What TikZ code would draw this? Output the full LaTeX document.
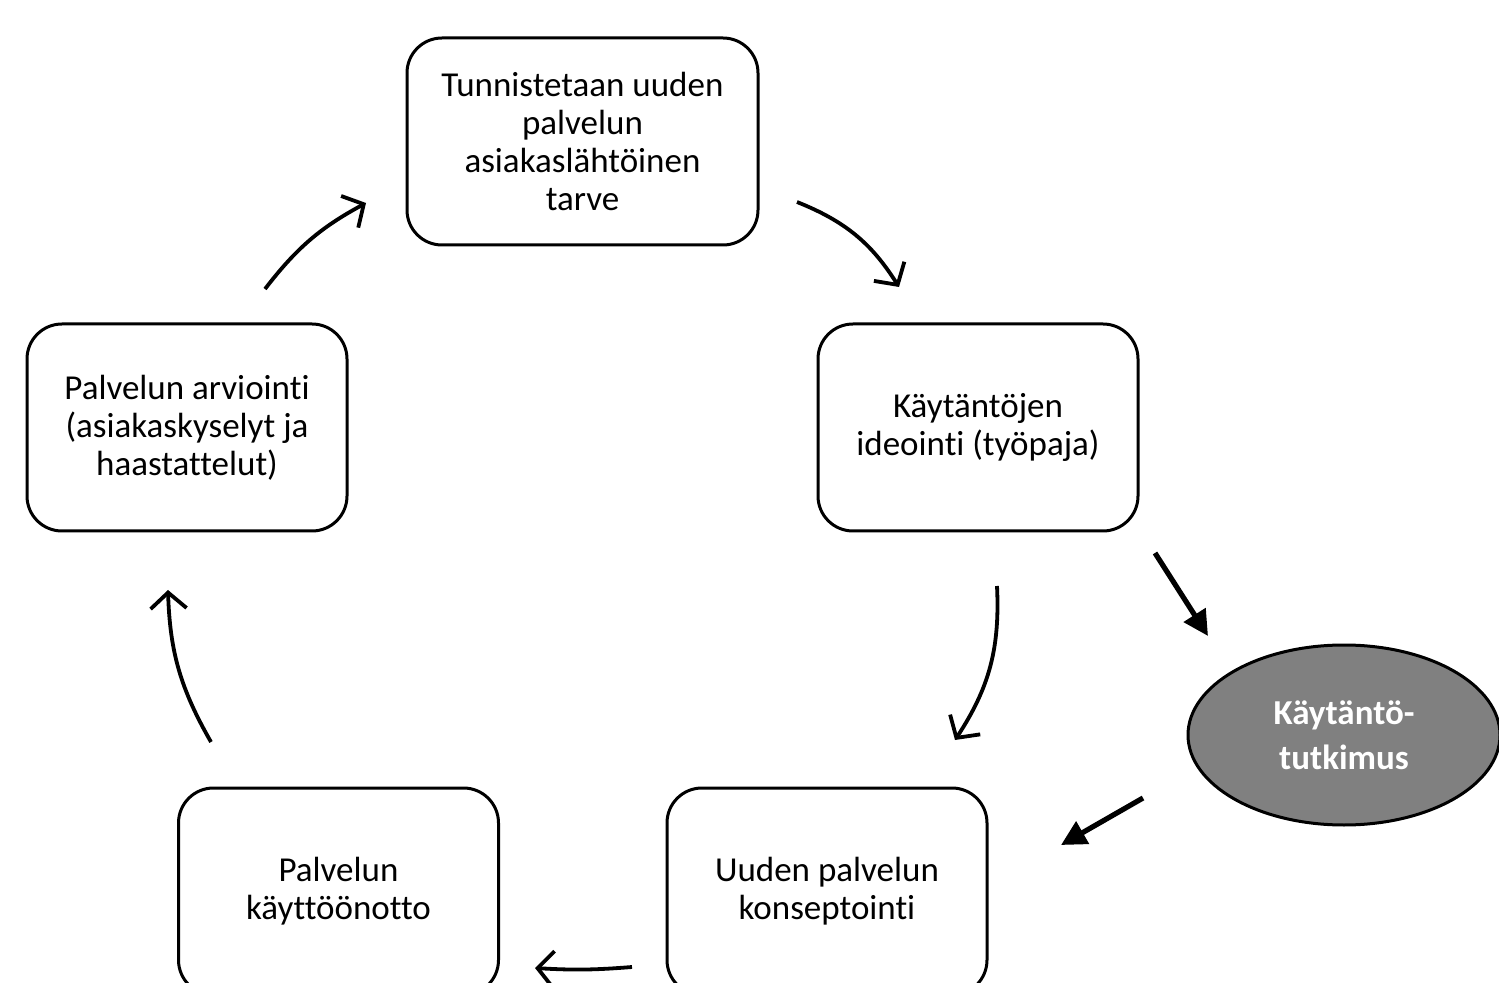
\documentclass[tikz,border=0pt]{standalone}
\usepackage{fontspec}
\setmainfont[Ligatures=NoCommon]{Carlito}
\usetikzlibrary{arrows.meta,shapes.geometric}
\tikzset{
  stagebox/.style={draw=black, line width=1.5pt, rounded corners=17.5pt, fill=white,
    minimum width=160pt, minimum height=103.5pt, align=center, inner sep=0pt,
    font=\fontsize{17.5}{19}\selectfont},
  research/.style={ellipse, draw=black, line width=1.5pt, fill=black!50, text=white,
    minimum width=156pt, minimum height=90pt, align=center, inner sep=0pt,
    font=\fontsize{17.5}{22.5}\selectfont\bfseries},
  cyclearrow/.style={line width=1.9pt, -{Straight Barb[length=8pt,width=18pt,line width=1.9pt]}},
  thickarrow/.style={line width=2.6pt, -{Triangle[length=12.5pt,width=12.5pt]}}
}
\begin{document}
\begin{tikzpicture}[x=0.5pt,y=-0.5pt]
\useasboundingbox (0,0) rectangle (1499,983);
\clip (0,0) rectangle (1499,983);
\node[stagebox, minimum width=175.5pt] (top) at (582.5,141.5) {Tunnistetaan uuden\\palvelun\\asiakaslähtöinen\\tarve};
\node[stagebox] (right) at (978,427.5) {Käytäntöjen\\ideointi (työpaja)};
\node[stagebox] (left) at (187,427.5) {Palvelun arviointi\\(asiakaskyselyt ja\\haastattelut)};
\node[stagebox] (bl) at (338.5,891.5) {Palvelun\\käyttöönotto};
\node[stagebox] (br) at (827,891.5) {Uuden palvelun\\konseptointi};
\node[research] (res) at (1344,735) {Käytäntö-\\tutkimus};

\coordinate (a1s) at (797,202);  \coordinate (a1e) at (899,287);
\coordinate (a2s) at (997,586);  \coordinate (a2e) at (955,740);
\coordinate (a3s) at (632,967);  \coordinate (a3e) at (535,968);
\coordinate (a4s) at (211,742);  \coordinate (a4e) at (168,590);
\coordinate (a5s) at (265,289);  \coordinate (a5e) at (366,203);
\coordinate (a6s) at (1155,553); \coordinate (a6e) at (1208,636);
\coordinate (a7s) at (1143,798); \coordinate (a7e) at (1061,845);

\draw[cyclearrow] (a1s) to[bend left=18] (a1e);
\draw[cyclearrow] (a2s) to[bend left=18] (a2e);
\draw[cyclearrow] (a3s) to[bend left=4] (a3e);
\draw[cyclearrow] (a4s) to[bend left=14] (a4e);
\draw[cyclearrow] (a5s) to[bend left=12] (a5e);
\draw[thickarrow] (a6s) -- (a6e);
\draw[thickarrow] (a7s) -- (a7e);
\end{tikzpicture}
\end{document}
